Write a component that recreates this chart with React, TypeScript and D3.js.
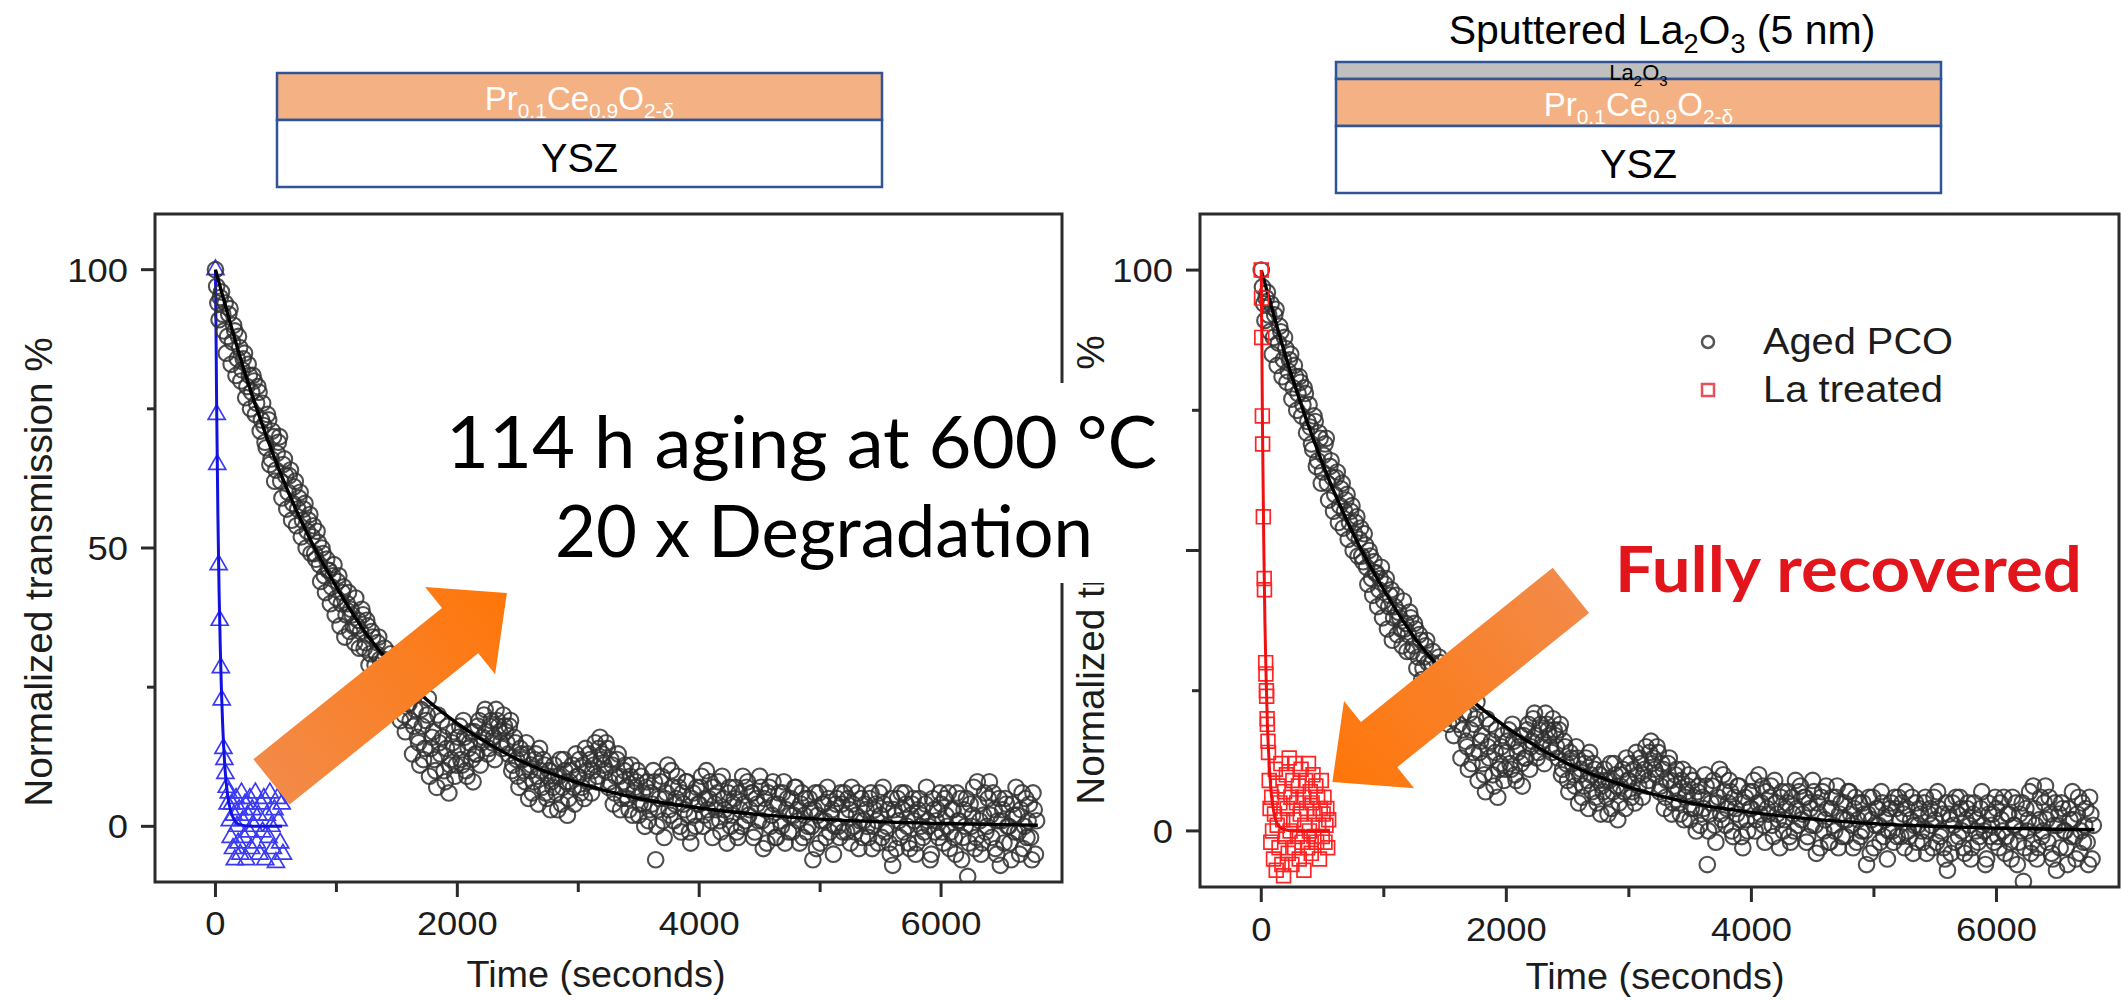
import React from 'react';
import * as d3 from 'd3';

// ---------------- data ----------------
const X_DOMAIN: [number, number] = [-500, 7000];
const Y_DOMAIN: [number, number] = [-10, 110];
const xTicks = [0, 2000, 4000, 6000];
const xMinorTicks = [1000, 3000, 5000];
const yTicks = [0, 50, 100];
const yMinorTicks = [25, 75];

// Aged PCO (black circles): two interleaved read-outs, every 20 s, starting at 0 s and 10 s
const agedStep = 20;
const agedStartA = 0;
const agedValuesA = [
  100, 94, 95, 92, 94, 88, 93, 87, 89, 84, 86, 82, 85, 79, 81, 78, 80, 76, 78, 73,
  72, 68, 73, 66, 70, 64, 69, 62, 65, 63, 60, 64, 58, 62, 57, 60, 55, 58, 53, 56,
  52, 49, 53, 47, 50, 45, 48, 46, 43, 47, 41, 45, 40, 43, 38, 42, 39, 36, 41, 37,
  35, 38, 33, 36, 31, 34, 29, 33, 30, 27, 32, 28, 25, 30, 24, 27, 22, 26, 20, 24,
  22, 26, 18, 24, 15, 21, 12, 19, 23, 14, 17, 10, 20, 13, 16, 8, 18, 11, 15, 9,
  14, 18, 11, 16, 9, 15, 12, 17, 13, 19, 15, 20, 17, 14, 19, 16, 21, 18, 15, 20,
  17, 13, 19, 11, 15, 9, 14, 12, 8, 13, 10, 6, 12, 9, 14, 7, 11, 5, 10, 8,
  11, 6, 9, 4, 12, 8, 5, 10, 7, 13, 9, 6, 11, 14, 8, 12, 10, 15, 9, 16,
  13, 10, 14, 8, 11, 6, 12, 9, 5, 10, 7, 3, 11, 6, 8, 2, 9, 4, 7, 1,
  6, 10, -6, 3, 8, 1, 5, 11, 2, 7, 4, 9, 0, 6, 3, 8, -1, 5, 2, 7,
  4, 9, 2, 10, 5, 1, 7, 3, 8, -1, 5, 2, 6, 0, 4, 7, -2, 3, 9, 1,
  8, 3, 6, -1, 4, 9, 1, 5, -3, 7, 2, 4, -2, 6, 0, 8, 3, -1, 5, 2,
  7, 1, 4, -2, 5, 0, 3, -6, 6, 2, -3, 4, 1, 7, -1, 3, 0, 5, -2, 4,
  6, -1, 3, 7, 0, 2, -4, 5, 1, 3, -2, 6, 0, 4, -3, 2, 7, -1, 3, -5,
  -7, 2, 5, -2, 3, 6, 0, -4, 4, 1, -3, 5, 2, -1, 7, 0, -5, 3, 1, -2,
  4, -3, 2, 6, -1, 3, -5, 1, 5, -2, 0, -9, 4, 2, -4, 8, 1, -3, 6, 0,
  8, -2, 3, -5, 5, 1, -3, 4, 0, -6, 2, 7, -1, 3, -4, 5, 1, -2, 6, -5,
];
const agedStartB = 10;
const agedValuesB = [
  97, 91, 96, 89, 85, 92, 83, 90, 81, 88, 80, 84, 77, 83, 75, 81, 74, 79, 71, 76,
  69, 74, 65, 71, 62, 67, 70, 59, 66, 57, 63, 55, 61, 54, 59, 52, 57, 50, 55, 49,
  54, 48, 51, 44, 49, 42, 46, 40, 45, 38, 44, 36, 42, 34, 40, 35, 38, 33, 36, 32,
  39, 32, 37, 29, 35, 27, 31, 34, 26, 30, 23, 28, 31, 21, 26, 29, 19, 25, 17, 22,
  19, 13, 21, 16, 11, 18, 14, 20, 9, 16, 12, 7, 15, 19, 10, 14, 6, 12, 17, 11,
  16, 12, 19, 10, 14, 17, 8, 13, 18, 11, 16, 21, 13, 18, 15, 12, 19, 17, 14, 18,
  15, 18, 10, 16, 12, 7, 13, 10, 15, 5, 11, 8, 13, 4, 10, 12, 6, 9, 3, 7,
  9, 3, 12, 7, 10, 2, 8, 11, 4, 9, 12, 7, 5, 10, 13, 6, 11, 8, 14, 12,
  11, 15, 7, 12, 4, 9, 13, 3, 8, 11, 5, 9, 2, 7, 10, 4, 6, 0, 8, 3,
  4, 8, 0, 5, 9, -2, 6, 3, 10, 1, 5, 7, -1, 4, 8, 2, -3, 6, 0, 4,
  7, 0, 5, 3, 8, -2, 4, 6, 1, 9, 3, -3, 7, 2, 5, -1, 6, 0, 4, 7,
  2, 6, -2, 5, 1, 7, -4, 3, 6, 0, 8, -2, 4, 1, 6, -3, 5, 2, -1, 7,
  3, -3, 6, 2, -1, 5, 0, 3, -4, 6, 1, 4, -2, 5, 2, -5, 4, 0, 6, -1,
  2, 5, -3, 4, -1, 6, 1, -2, 4, 0, 5, -4, 3, 1, 6, -2, 4, 0, -3, 5,
  3, -4, 1, 6, -1, 4, -3, 2, 5, -5, 3, 0, -2, 4, 1, -6, 5, -1, 3, 6,
  -1, 5, 0, -4, 3, -2, 6, 1, -6, 3, 5, -3, 0, 7, -2, 4, -5, 2, -1, 5,
  2, 6, -4, 1, -7, 3, 5, 0, -3, 4, -1, 2, -5, 6, 0, -2, 4, -6, 3, 1,
];
const agedFitT = [0, 250, 500, 750, 1000, 1250, 1500, 1750, 2000, 2500, 3000, 3500, 4000, 4500, 5000, 5500, 6000, 6500, 6800];
const agedFitV = [100, 81, 65.5, 53, 43, 34.5, 28, 22.7, 18.5, 12, 7.8, 5, 3.3, 2.1, 1.3, 0.8, 0.5, 0.3, 0.2];

// Fresh PCO (blue triangles), left panel
const freshT = [0, 10, 15, 26, 35, 44, 52, 66, 74, 82, 93, 100, 110, 118, 126, 135, 145, 152, 160, 170, 178, 188, 196, 205, 215, 225, 235, 245, 255, 265, 275, 285, 295, 305, 318, 330, 342, 355, 365, 378, 390, 400, 412, 425, 438, 450, 462, 475, 488, 500, 512, 522, 535, 548, 558];
const freshV = [100, 74, 65, 47, 37, 28.5, 22.7, 14, 12, 9.5, 7, 4, 6, 1, -2, 4, -4, 2, -6, 5, 0, -3, 3, -5, 6, 1, -2, 4, -6, 2, -1, 5, -4, 3, 0, 6, -3, 2, -5, 4, -1, 5, -6, 2, -2, 6, 0, -4, 3, -6.5, 5, 1, -3, 4, -5];
const freshFitT = [0, 10, 20, 30, 40, 50, 60, 80, 100, 125, 150, 200, 300, 550];
const freshFitV = [100, 75, 56, 42, 32, 24, 18, 10, 5.7, 2.8, 1.4, 0.3, 0, 0];

// La treated (red squares), right panel
const laT = [0, 2, 4, 9, 11, 17, 24, 26, 36, 38, 42, 44, 48, 50, 55, 59, 65, 72, 78, 85, 92, 100, 108, 115, 122, 130, 138, 145, 152, 160, 168, 175, 182, 190, 198, 205, 212, 220, 228, 235, 242, 250, 258, 265, 272, 280, 288, 295, 303, 310, 318, 325, 333, 340, 348, 355, 362, 370, 378, 385, 393, 400, 408, 415, 422, 430, 438, 445, 452, 460, 468, 475, 482, 490, 498, 505, 512, 520, 528, 535, 542, 550];
const laV = [100, 95, 88, 74, 69, 56, 45, 43, 30, 28, 25, 24, 20, 19, 16, 14, 9, 4, -2, 6, 0, -5, 3, 11, -7, 1, 8, -3, 5, 12, -6, 2, -8, 7, -1, 10, 4, -4, 13, 0, 6, -6, 9, 2, -3, 12, 5, -1, 8, -5, 3, 11, -2, 6, -7, 1, 9, 4, -3, 12, 0, 7, -4, 5, 10, -1, 3, 8, -2, 6, 1, -5, 4, 9, -1, 3, 6, -2, 1, 4, -3, 2];
const laFitT = [0, 10, 20, 30, 40, 50, 60, 80, 100, 130, 170, 250, 400, 560];
const laFitV = [100, 72, 52, 37, 27, 19, 14, 7, 3.6, 1.3, 0.4, 0, 0, 0];

// annotation arrows in data coordinates [time, value]
const leftArrow = { tail: [463, 8], tip: [2410, 41.9] };
const rightArrow = { tail: [2527, 42.9], tip: [580, 8.7] };

// ---------------- layout ----------------
const W = 2121;
const H = 1001;
const SANS = "'Liberation Sans', Arial, Helvetica, sans-serif";
const CAL = "Lato, 'Open Sans', sans-serif";
const LEFT = { l: 155, t: 214, r: 1062, b: 882 };
const RIGHT = { l: 1200, t: 214, r: 2119, b: 887 };
const AX = '#2b2b2b';

function T({ x, y, fs, sx = 1, anchor = 'start', fill = '#1c1c1c', family = SANS, weight = 400, rotate = 0, children }: any) {
  return (
    <text
      transform={`translate(${x},${y}) rotate(${rotate}) scale(${sx},1)`}
      fontSize={fs}
      textAnchor={anchor}
      fill={fill}
      fontFamily={family}
      fontWeight={weight}
    >
      {children}
    </text>
  );
}

function arrowPath(x0: number, y0: number, x1: number, y1: number, sw: number, hw: number, hl: number) {
  const dx = x1 - x0, dy = y1 - y0;
  const L = Math.hypot(dx, dy);
  const ux = dx / L, uy = dy / L;
  const px = -uy, py = ux;
  const bx = x1 - ux * hl, by = y1 - uy * hl;
  const pts = [
    [x0 + (px * sw) / 2, y0 + (py * sw) / 2],
    [bx + (px * sw) / 2, by + (py * sw) / 2],
    [bx + (px * hw) / 2, by + (py * hw) / 2],
    [x1, y1],
    [bx - (px * hw) / 2, by - (py * hw) / 2],
    [bx - (px * sw) / 2, by - (py * sw) / 2],
    [x0 - (px * sw) / 2, y0 - (py * sw) / 2],
  ];
  return 'M' + pts.map((p) => p.join(',')).join('L') + 'Z';
}

function Panel({ f, id, fastT, fastV, fastFitT, fastFitV, fastColor, fastLine, shape, fastOnTop, arrow, labelX, labelY, titleX, titleY, tickLabelY }: any) {
  const x = d3.scaleLinear().domain(X_DOMAIN).range([f.l, f.r]);
  const y = d3.scaleLinear().domain(Y_DOMAIN).range([f.b, f.t]);
  const line = d3
    .line<[number, number]>()
    .x((d) => x(d[0]))
    .y((d) => y(d[1]))
    .curve(d3.curveMonotoneX);

  const agedPts: [number, number][] = [
    ...agedValuesA.map((v, i) => [agedStartA + i * agedStep, v] as [number, number]),
    ...agedValuesB.map((v, i) => [agedStartB + i * agedStep, v] as [number, number]),
  ];
  const agedFit = line(agedFitT.map((t, i) => [t, agedFitV[i]] as [number, number]));
  const fastFit = line(fastFitT.map((t: number, i: number) => [t, fastFitV[i]] as [number, number]));
  const sym =
    shape === 'triangle'
      ? d3.symbol().type(d3.symbolTriangle).size(125)()
      : d3.symbol().type(d3.symbolSquare).size(190)();

  const fastGroup = (
    <g key="fast">
      {fastT.map((t: number, i: number) => (
        <path
          key={i}
          d={sym as string}
          transform={`translate(${x(t)},${y(fastV[i])})`}
          fill="none"
          stroke={fastColor}
          strokeWidth={1.7}
        />
      ))}
      <path d={fastFit as string} fill="none" stroke={fastLine} strokeWidth={3} />
    </g>
  );
  const agedGroup = (
    <g key="aged">
      {agedPts.map((d, i) => (
        <circle key={i} cx={x(d[0])} cy={y(d[1])} r={7.8} fill="none" stroke="#303030" strokeOpacity={0.85} strokeWidth={2.1} />
      ))}
      <path d={agedFit as string} fill="none" stroke="#000" strokeWidth={3.4} />
    </g>
  );

  const ax0 = x(arrow.tail[0]), ay0 = y(arrow.tail[1]);
  const ax1 = x(arrow.tip[0]), ay1 = y(arrow.tip[1]);

  return (
    <g>
      <defs>
        <clipPath id={`clip-${id}`}>
          <rect x={f.l} y={f.t} width={f.r - f.l} height={f.b - f.t} />
        </clipPath>
        <linearGradient id={`grad-${id}`} gradientUnits="userSpaceOnUse" x1={ax0} y1={ay0} x2={ax1} y2={ay1}>
          <stop offset="0" stopColor="#F38A48" />
          <stop offset="1" stopColor="#FF7608" />
        </linearGradient>
      </defs>
      <g clipPath={`url(#clip-${id})`}>
        {fastOnTop ? [agedGroup, fastGroup] : [fastGroup, agedGroup]}
      </g>
      <path d={arrowPath(ax0, ay0, ax1, ay1, 58, 112, 60)} fill={`url(#grad-${id})`} />
      {/* frame */}
      <rect x={f.l} y={f.t} width={f.r - f.l} height={f.b - f.t} fill="none" stroke={AX} strokeWidth={3} />
      {/* y ticks */}
      {yTicks.map((v) => (
        <g key={'y' + v}>
          <line x1={f.l - 14} x2={f.l} y1={y(v)} y2={y(v)} stroke={AX} strokeWidth={3} />
          <T x={f.l - 27} y={y(v) + 12} fs={34} sx={1.07} anchor="end">{v}</T>
        </g>
      ))}
      {yMinorTicks.map((v) => (
        <line key={'ym' + v} x1={f.l - 8} x2={f.l} y1={y(v)} y2={y(v)} stroke={AX} strokeWidth={3} />
      ))}
      {/* x ticks */}
      {xTicks.map((t) => (
        <g key={'x' + t}>
          <line x1={x(t)} x2={x(t)} y1={f.b} y2={f.b + 15} stroke={AX} strokeWidth={3} />
          <T x={x(t)} y={tickLabelY} fs={34} sx={1.07} anchor="middle">{t}</T>
        </g>
      ))}
      {xMinorTicks.map((t) => (
        <line key={'xm' + t} x1={x(t)} x2={x(t)} y1={f.b} y2={f.b + 10} stroke={AX} strokeWidth={3} />
      ))}
      <T x={titleX} y={titleY} fs={36} sx={1.05} anchor="middle">Time (seconds)</T>
      <T x={labelX} y={labelY} fs={38} sx={1.02} anchor="middle" rotate={-90}>Normalized transmission %</T>
    </g>
  );
}

function Stack({ x0, x1, top, hasLa }: any) {
  const laH = 17;
  const orangeTop = hasLa ? top + laH : top;
  const orangeBot = orangeTop + 47;
  const bottom = orangeBot + 67;
  const cx = (x0 + x1) / 2;
  const border = '#2F5597';
  return (
    <g>
      {hasLa && <rect x={x0} y={top} width={x1 - x0} height={laH} fill="#BFBFBF" stroke={border} strokeWidth={2.5} />}
      <rect x={x0} y={orangeTop} width={x1 - x0} height={orangeBot - orangeTop} fill="#F4B183" stroke={border} strokeWidth={2.5} />
      <rect x={x0} y={orangeBot} width={x1 - x0} height={bottom - orangeBot} fill="#fff" stroke={border} strokeWidth={2.5} />
      <text x={cx} y={orangeBot - 10} textAnchor="middle" fontSize={33} fill="#fff" fontFamily={SANS}>
        Pr<tspan fontSize={21} dy={8}>0.1</tspan>
        <tspan dy={-8}>Ce</tspan>
        <tspan fontSize={21} dy={8}>0.9</tspan>
        <tspan dy={-8}>O</tspan>
        <tspan fontSize={21} dy={8}>2-δ</tspan>
      </text>
      <text x={cx} y={bottom - 15} textAnchor="middle" fontSize={41} fill="#000" fontFamily={SANS} textLength={77} lengthAdjust="spacingAndGlyphs">
        YSZ
      </text>
      {hasLa && (
        <text x={cx} y={top + 18} textAnchor="middle" fontSize={22} fill="#000" fontFamily={SANS}>
          La<tspan fontSize={15} dy={6}>2</tspan>
          <tspan dy={-6}>O</tspan>
          <tspan fontSize={15} dy={6}>3</tspan>
        </text>
      )}
    </g>
  );
}

export default function App() {
  return (
    <svg width={W} height={H} style={{ position: 'absolute', left: 0, top: 0, display: 'block', background: '#fff' }}>
      <rect x={0} y={0} width={W} height={H} fill="#fff" />
      <Stack x0={277} x1={882} top={73} hasLa={false} />
      <Stack x0={1336} x1={1941} top={62} hasLa={true} />
      <text x={1662} y={44} textAnchor="middle" fontSize={41} fill="#000" fontFamily={SANS}>
        Sputtered La<tspan fontSize={27} dy={9}>2</tspan>
        <tspan dy={-9}>O</tspan>
        <tspan fontSize={27} dy={9}>3</tspan>
        <tspan dy={-9}> (5 nm)</tspan>
      </text>

      <Panel
        f={LEFT}
        id="left"
        fastT={freshT}
        fastV={freshV}
        fastFitT={freshFitT}
        fastFitV={freshFitV}
        fastColor="#3A3AF2"
        fastLine="#1212E0"
        shape="triangle"
        fastOnTop={false}
        arrow={leftArrow}
        labelX={52}
        labelY={572}
        titleX={596}
        titleY={987}
        tickLabelY={935}
      />
      <Panel
        f={RIGHT}
        id="right"
        fastT={laT}
        fastV={laV}
        fastFitT={laFitT}
        fastFitV={laFitV}
        fastColor="#FF2424"
        fastLine="#F01010"
        shape="square"
        fastOnTop={true}
        arrow={rightArrow}
        labelX={1104}
        labelY={570}
        titleX={1655}
        titleY={989}
        tickLabelY={941}
      />

      {/* legend */}
      <circle cx={1708} cy={342} r={6} fill="none" stroke="#555" strokeWidth={2.5} />
      <rect x={1702} y={384} width={12} height={12} fill="none" stroke="#E8505A" strokeWidth={2.5} />
      <text x={1763} y={354} fontSize={36} fill="#1c1c1c" fontFamily={SANS} textLength={190} lengthAdjust="spacingAndGlyphs">Aged PCO</text>
      <text x={1763} y={402} fontSize={36} fill="#1c1c1c" fontFamily={SANS} textLength={180} lengthAdjust="spacingAndGlyphs">La treated</text>

      {/* annotation box */}
      <rect x={400} y={383} width={780} height={200} fill="#fff" />
      <text x={446} y={468} fontSize={71} fill="#000" fontFamily={CAL} textLength={711} lengthAdjust="spacingAndGlyphs">114 h aging at 600 °C</text>
      <text x={555} y={557} fontSize={71} fill="#000" fontFamily={CAL} textLength={538} lengthAdjust="spacingAndGlyphs">20 x Degradation</text>

      <text x={1615} y={592} fontSize={64} fill="#E3151C" fontFamily={CAL} fontWeight={700} textLength={467} lengthAdjust="spacingAndGlyphs">Fully recovered</text>
    </svg>
  );
}
